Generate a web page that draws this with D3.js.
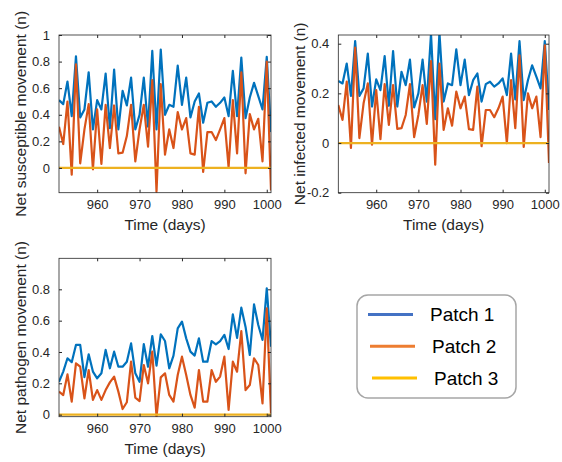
<!DOCTYPE html>
<html>
<head>
<meta charset="utf-8">
<script src="https://cdn.jsdelivr.net/npm/d3@7"></script>
<style>
  body { margin: 0; background: #fff; }
  svg { display: block; font-family: "Liberation Sans", Arial, Helvetica, sans-serif; }
  .tick text { fill: #262626; }
  .tick line { stroke: #262626; }
</style>
</head>
<body>
<svg id="chart" width="562" height="462"></svg>
<script>
// days on the x axis
const days = [951, 952, 953, 954, 955, 956, 957, 958, 959, 960,
  961, 962, 963, 964, 965, 966, 967, 968, 969, 970,
  971, 972, 973, 974, 975, 976, 977, 978, 979, 980,
  981, 982, 983, 984, 985, 986, 987, 988, 989, 990,
  991, 992, 993, 994, 995, 996, 997, 998, 999, 1000, 1001];
const xTicks = [960, 970, 980, 990, 1000];

// net susceptible movement
const suscPatch1 = [0.51, 0.48, 0.65, 0.39, 0.84, 0.38, 0.44, 0.72, 0.29, 0.51,
  0.44, 0.71, 0.30, 0.74, 0.29, 0.58, 0.47, 0.68, 0.29, 0.40,
  0.68, 0.31, 0.88, 0.29, 0.89, 0.40, 0.475, 0.46, 0.77, 0.475,
  0.68, 0.38, 0.50, 0.56, 0.34, 0.49, 0.50, 0.46, 0.49, 0.53,
  0.39, 0.73, 0.39, 0.83, 0.375, 0.53, 0.64, 0.54, 0.44, 0.835, 0.27];
const suscPatch2 = [0.31, 0.18, 0.50, -0.05, 0.78, 0.035, 0.29, 0.48, -0.01, 0.44,
  0.03, 0.475, 0.15, 0.47, 0.11, 0.115, 0.24, 0.475, 0.05, 0.29,
  0.475, 0.16, 0.66, -0.18, 0.63, 0.10, 0.29, 0.15, 0.42, 0.29,
  0.375, 0.11, 0.10, 0.46, -0.03, 0.27, 0.27, 0.21, 0.29, 0.375,
  0.005, 0.51, 0.11, 0.72, -0.04, 0.405, 0.29, 0.37, 0.05, 0.80, -0.17];

// net infected movement
const infPatch1 = [0.25, 0.24, 0.32, 0.19, 0.41, 0.19, 0.22, 0.36, 0.147, 0.256,
  0.213, 0.35, 0.15, 0.37, 0.147, 0.287, 0.233, 0.336, 0.143, 0.20,
  0.336, 0.167, 0.44, 0.096, 0.445, 0.167, 0.24, 0.233, 0.377, 0.233,
  0.336, 0.193, 0.253, 0.28, 0.167, 0.237, 0.247, 0.227, 0.24, 0.26,
  0.193, 0.36, 0.176, 0.41, 0.173, 0.253, 0.313, 0.267, 0.22, 0.41, 0.133];
const infPatch2 = [0.153, 0.093, 0.247, -0.02, 0.384, 0.02, 0.16, 0.24, -0.007, 0.213,
  0.016, 0.237, 0.073, 0.233, 0.057, 0.06, 0.113, 0.237, 0.024, 0.113,
  0.233, 0.077, 0.33, -0.087, 0.32, 0.053, 0.14, 0.07, 0.207, 0.14,
  0.187, 0.056, 0.053, 0.227, -0.013, 0.133, 0.133, 0.104, 0.14, 0.187,
  0.0, 0.253, 0.06, 0.353, -0.016, 0.20, 0.14, 0.187, 0.024, 0.393, -0.08];

// net pathogen movement
const pathPatch1 = [0.21, 0.275, 0.36, 0.335, 0.445, 0.445, 0.24, 0.385, 0.275, 0.232,
  0.264, 0.413, 0.296, 0.402, 0.306, 0.306, 0.338, 0.455, 0.264, 0.21,
  0.45, 0.306, 0.502, 0.313, 0.513, 0.47, 0.296, 0.377, 0.551, 0.594,
  0.487, 0.402, 0.377, 0.487, 0.338, 0.338, 0.47, 0.449, 0.47, 0.509,
  0.419, 0.64, 0.49, 0.683, 0.56, 0.381, 0.704, 0.572, 0.477, 0.806, 0.434];
const pathPatch2 = [0.147, 0.125, 0.257, 0.083, 0.328, 0.306, 0.104, 0.285, 0.094, 0.157,
  0.094, 0.157, 0.206, 0.243, 0.147, 0.036, 0.079, 0.338, 0.109, 0.087,
  0.317, 0.20, 0.402, -0.013, 0.238, 0.264, 0.126, 0.083, 0.253, 0.37,
  0.253, 0.126, 0.045, 0.285, 0.083, 0.083, 0.285, 0.21, 0.243, 0.37,
  0.03, 0.338, 0.274, 0.534, 0.157, 0.189, 0.36, 0.317, 0.072, 0.679, 0.008];

// patch 3 sits on zero in every panel
const patch3 = [0, 0, 0, 0, 0, 0, 0, 0, 0, 0,
  0, 0, 0, 0, 0, 0, 0, 0, 0, 0,
  0, 0, 0, 0, 0, 0, 0, 0, 0, 0,
  0, 0, 0, 0, 0, 0, 0, 0, 0, 0,
  0, 0, 0, 0, 0, 0, 0, 0, 0, 0, 0];

const legendLabels = ["Patch 1", "Patch 2", "Patch 3"];

const lineColors = ["#0072BD", "#D95319", "#EDB120"];
const legendColors = ["#4472C4", "#ED7D31", "#FFC000"];

const panels = [
  { id: "p1", yLabel: "Net susceptible movement (n)", series: [suscPatch1, suscPatch2, patch3],
    yDomain: [-0.186, 1], yTicks: [0, 0.2, 0.4, 0.6, 0.8, 1],
    left: 59, right: 271, top: 35, bottom: 192.7, labelX: 21 },
  { id: "p2", yLabel: "Net infected movement (n)", series: [infPatch1, infPatch2, patch3],
    yDomain: [-0.2, 0.435], yTicks: [-0.2, 0, 0.2, 0.4],
    left: 338.3, right: 549, top: 35, bottom: 192.7, labelX: 300 },
  { id: "p3", yLabel: "Net pathogen movement (n)", series: [pathPatch1, pathPatch2, patch3],
    yDomain: [-0.013, 0.998], yTicks: [0, 0.2, 0.4, 0.6, 0.8],
    left: 59, right: 271, top: 258.3, bottom: 416.7, labelX: 21 }
];

const svg = d3.select("#chart");
svg.append("rect").attr("width", 562).attr("height", 462).attr("fill", "#fff");

const fmt = d => (d === 0 ? "0" : String(+d.toFixed(1)));

panels.forEach(p => {
  const x = d3.scaleLinear().domain([951, 1001]).range([p.left, p.right]);
  const y = d3.scaleLinear().domain(p.yDomain).range([p.bottom, p.top]);
  const g = svg.append("g");

  g.append("clipPath").attr("id", "clip-" + p.id)
    .append("rect")
    .attr("x", p.left).attr("y", p.top)
    .attr("width", p.right - p.left).attr("height", p.bottom - p.top);

  const line = d3.line()
    .x((d, i) => x(days[i]))
    .y(d => y(d));

  g.append("g").attr("clip-path", `url(#clip-${p.id})`)
    .selectAll("path")
    .data(p.series)
    .join("path")
    .attr("fill", "none")
    .attr("stroke", (d, i) => lineColors[i])
    .attr("stroke-width", 2.2)
    .attr("stroke-linejoin", "round")
    .attr("d", line);

  // axes with ticks pointing inwards, MATLAB box style
  g.append("g")
    .attr("transform", `translate(0,${p.bottom})`)
    .call(d3.axisBottom(x).tickValues(xTicks).tickSize(-3).tickPadding(7).tickFormat(d3.format("d")))
    .call(a => a.select(".domain").remove())
    .selectAll("text").attr("font-size", 13);

  g.append("g")
    .attr("transform", `translate(0,${p.top})`)
    .call(d3.axisTop(x).tickValues(xTicks).tickSize(-3).tickFormat(""))
    .call(a => a.select(".domain").remove());

  g.append("g")
    .attr("transform", `translate(${p.left},0)`)
    .call(d3.axisLeft(y).tickValues(p.yTicks).tickSize(-3).tickPadding(9).tickFormat(fmt))
    .call(a => a.select(".domain").remove())
    .selectAll("text").attr("font-size", 13);

  g.append("g")
    .attr("transform", `translate(${p.right},0)`)
    .call(d3.axisRight(y).tickValues(p.yTicks).tickSize(-3).tickFormat(""))
    .call(a => a.select(".domain").remove());

  g.append("rect")
    .attr("x", p.left).attr("y", p.top)
    .attr("width", p.right - p.left).attr("height", p.bottom - p.top)
    .attr("fill", "none").attr("stroke", "#262626").attr("stroke-width", 0.8);

  g.append("text")
    .attr("x", (p.left + p.right) / 2)
    .attr("y", p.bottom + 37)
    .attr("text-anchor", "middle")
    .attr("font-size", 15.5)
    .attr("fill", "#262626")
    .text("Time (days)");

  g.append("text")
    .attr("transform", `translate(${p.labelX},${(p.top + p.bottom) / 2}) rotate(-90)`)
    .attr("text-anchor", "middle")
    .attr("dy", "0.35em")
    .attr("font-size", 15.5)
    .attr("fill", "#262626")
    .text(p.yLabel);
});

// legend
const legend = svg.append("g");
legend.append("rect")
  .attr("x", 357).attr("y", 295)
  .attr("width", 159).attr("height", 103)
  .attr("rx", 11).attr("ry", 11)
  .attr("fill", "#fff")
  .attr("stroke", "#a6a6a6")
  .attr("stroke-width", 1.5);

const ly = d3.scalePoint().domain(legendLabels).range([314.5, 378]);
const item = legend.selectAll("g.item")
  .data(legendLabels)
  .join("g").attr("class", "item")
  .attr("transform", (d, i) => `translate(${2 * i},${ly(d)})`);
item.append("line")
  .attr("x1", 368).attr("x2", 413)
  .attr("stroke", (d, i) => legendColors[i])
  .attr("stroke-width", 3.2);
item.append("text")
  .attr("x", 430)
  .attr("dy", "0.35em")
  .attr("font-size", 19)
  .attr("fill", "#000")
  .text(d => d);
</script>
</body>
</html>
